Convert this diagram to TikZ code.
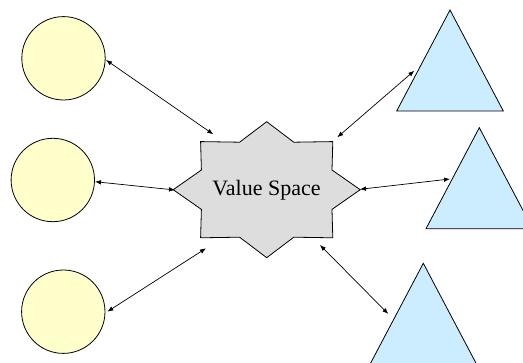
\documentclass[tikz,border=0pt]{standalone}
\usepackage{fontspec}
\setmainfont{Liberation Serif}
\usetikzlibrary{arrows.meta}
\definecolor{circfill}{HTML}{FFFFCC}
\definecolor{trifill}{HTML}{CCECFF}
\definecolor{starfill}{HTML}{DDDDDD}
\tikzset{
  outline/.style={draw=black, line width=0.8pt, line join=miter},
  holder/.style={circle, outline, fill=circfill, minimum size=83.4pt, inner sep=0pt},
  wedge/.style={outline, fill=trifill},
  hub/.style={outline, fill=starfill},
  link/.style={line width=0.7pt, {Latex[length=6pt,width=4.6pt]}-{Latex[length=6pt,width=4.6pt]}}
}
\begin{document}
\begin{tikzpicture}[x=1pt,y=-1pt]
  \useasboundingbox (0,0) rectangle (523,363);
  \clip (0,0) rectangle (523,363);
  \fill[white] (0,0) rectangle (523,363);

  % circles on the left
  \node[holder] (c1) at (63.5,58.3) {};
  \node[holder] (c2) at (52.8,180) {};
  \node[holder] (c3) at (63.3,311.7) {};

  % triangles on the right
  \draw[wedge] (450,10) -- (503.3,111) -- (396.7,111) -- cycle;
  \draw[wedge] (479.3,127.7) -- (532.7,228.7) -- (426,228.7) -- cycle;
  \draw[wedge] (423.3,263.3) -- (476.6,364.3) -- (370,364.3) -- cycle;

  % eight-point star in the middle
  \draw[hub] (360.2,189.7) -- (332,209.4) -- (332.8,237.8) -- (293.8,237.2)
    -- (266.7,257.7) -- (239.6,237.2) -- (200.6,237.8) -- (201.4,209.4)
    -- (173.2,189.7) -- (201.4,170) -- (200.6,141.6) -- (239.6,142.2)
    -- (266.7,121.7) -- (293.8,142.2) -- (332.8,141.6) -- (332,170) -- cycle;
  \node[font=\fontsize{22}{24}\selectfont] (vs) at (266.5,190) {Value Space};

  % connector end points
  \coordinate (c1e) at (106,60);
  \coordinate (s1) at (213.3,134.3);
  \coordinate (c2e) at (95,181.7);
  \coordinate (s2) at (175,190);
  \coordinate (c3e) at (107.3,311.7);
  \coordinate (s3) at (206,248.3);
  \coordinate (t1e) at (414.3,70.7);
  \coordinate (s4) at (337.3,137.3);
  \coordinate (t2e) at (450,179);
  \coordinate (s5) at (360,189.3);
  \coordinate (t3e) at (388.3,314);
  \coordinate (s6) at (320,245);

  % connectors
  \draw[link] (c1e) -- (s1);
  \draw[link] (c2e) -- (s2);
  \draw[link] (c3e) -- (s3);
  \draw[link] (t1e) -- (s4);
  \draw[link] (t2e) -- (s5);
  \draw[link] (t3e) -- (s6);
\end{tikzpicture}
\end{document}
